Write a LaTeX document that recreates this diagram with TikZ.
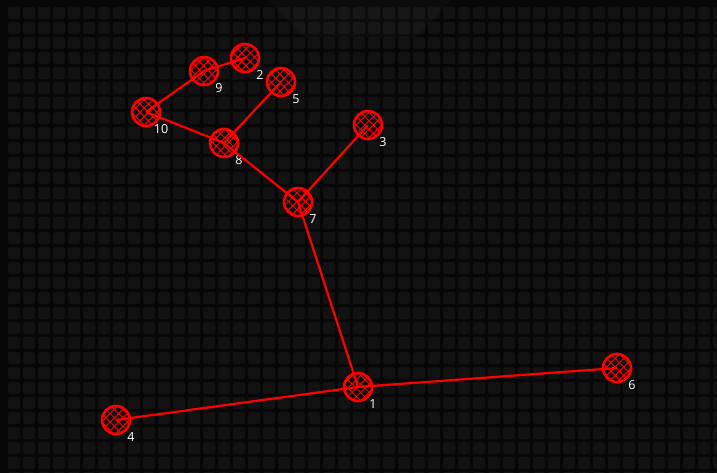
\documentclass[tikz,border=0pt]{standalone}
\usepackage{fontspec}
\setsansfont{Open Sans}
\usetikzlibrary{patterns.meta}
\definecolor{bgdark}{HTML}{070707}
\definecolor{tiledark}{HTML}{121212}

\begin{document}
\begin{tikzpicture}[x=1pt,y=-1pt,
  vertex/.style={draw=red,line width=2.6pt,circle,inner sep=0,minimum size=28pt,
    pattern={Hatch[angle=45,distance=6pt,line width=1pt]},pattern color=red},
  tag/.style={text=white,font=\sffamily\fontsize{12.5}{14}\selectfont,inner sep=0},
  link/.style={red,line width=2.2pt}]
\fill[bgdark] (0,0) rectangle (717,473);
\useasboundingbox (0,0) rectangle (717,473);
\foreach \c in {0,...,47}
  \foreach \r in {0,...,31}
    \fill[tiledark,rounded corners=2pt] (8+15*\c,7+15*\r) rectangle +(12,12);
\fill[white,opacity=0.025] (268,0) -- (452,0) -- (415,38) -- (305,38) -- cycle;
\foreach \i/\x/\y in {1/358/387,2/245/58,3/368/125,4/116/420,5/281/82,
                      6/617/368,7/298/202,8/224/143,9/204/71,10/146/112}
{
  \node [vertex] (\i) at (\x,\y) {};
  \node [tag] (t\i) at ([shift={(15,17)}]\i.center) {\i};
}
\foreach \a/\b in {9/2,10/9,10/8,8/5,8/7,7/3,7/1,1/4,1/6}
  \draw [link] (\a.center) -- (\b.center);
\end{tikzpicture}
\end{document}
